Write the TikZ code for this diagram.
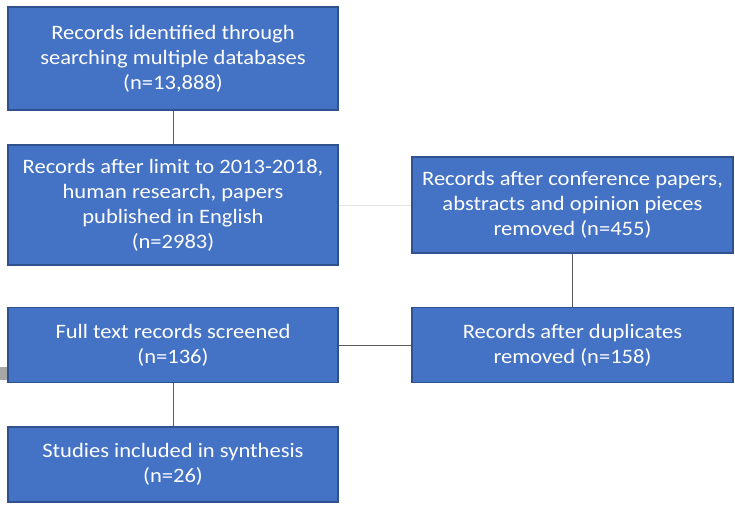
\documentclass[tikz,border=0pt]{standalone}
\usepackage{fontspec}
\setmainfont[FakeStretch=1.1]{Carlito}
\definecolor{boxblue}{HTML}{4472C4}
\definecolor{boxedge}{HTML}{2F528F}
\definecolor{linkgray}{HTML}{5A5A5A}
\tikzset{
  stage/.style={draw=boxedge,line width=1.2pt,fill=boxblue,text=white,align=center,
    inner sep=2pt,font=\fontsize{20.5}{25}\selectfont},
  link/.style={draw=linkgray,line width=1pt}
}
\begin{document}
\begin{tikzpicture}[x=1pt,y=-1pt]
  \useasboundingbox[fill=white] (0,0) rectangle (735,504);
  \fill[gray!70] (0,367) rectangle (13,380); %edge mark
  \node[stage,minimum width=330pt,minimum height=103pt] at (173,58.5) (found)
    {Records identified through\\searching multiple databases\\(n=13,888)};
  \node[stage,minimum width=330pt,minimum height=120pt] at (173,205) (limit)
    {Records after limit to 2013-2018,\\human research, papers\\published in English\\(n=2983)};
  \node[stage,minimum width=321pt,minimum height=96pt] at (572.5,205) (conf)
    {Records after conference papers,\\abstracts and opinion pieces\\removed (n=455)};
  \node[stage,minimum width=321pt,minimum height=75pt] at (572.5,345) (dupl)
    {Records after duplicates\\removed (n=158)};
  \node[stage,minimum width=330pt,minimum height=75pt] at (173,345) (full)
    {Full text records screened\\(n=136)};
  \node[stage,minimum width=330pt,minimum height=75pt] at (173,464.5) (incl)
    {Studies included in synthesis\\(n=26)};
  \draw[link] (found) -- (limit);
  \draw[draw=gray!20,line width=1pt] (limit) -- (conf); %faint
  \draw[link] (conf) -- (dupl);
  \draw[link] (dupl) -- (full);
  \draw[link] (full) -- (incl);
\end{tikzpicture}
\end{document}
